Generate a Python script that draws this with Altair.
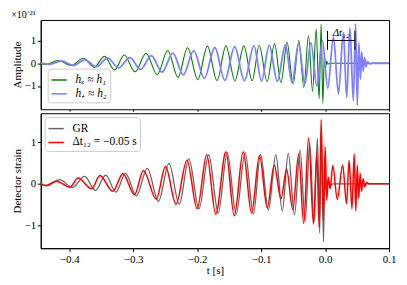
import altair as alt
import pandas as pd

# ---------------- data (extrema) ----------------
x_ticks = [-0.4, -0.3, -0.2, -0.1, 0.0, 0.1]
y_ticks = [-1, 0, 1]

# top panel: h_x ~ h1 (green)
green_t = [-0.4445, -0.437, -0.417, -0.397, -0.378, -0.361, -0.345, -0.329, -0.314, -0.297,
           -0.280, -0.2625, -0.246, -0.230, -0.215, -0.199, -0.184, -0.169, -0.155, -0.141,
           -0.127, -0.114, -0.103, -0.0906, -0.079, -0.069, -0.0595, -0.0499, -0.041, -0.0332,
           -0.026, -0.0196, -0.014, -0.0093, -0.0062, -0.0036, -0.0012, 0.0008, 0.0025, 0.0045,
           0.007, 0.1]
green_v = [0.0, -0.05, 0.12, -0.10, 0.22, -0.18, 0.30, -0.30, 0.36, -0.38,
           0.44, -0.50, 0.56, -0.62, 0.68, -0.72, 0.75, -0.76, 0.76, -0.77,
           0.76, -0.77, 0.78, -0.80, 0.85, -0.85, 0.92, -0.92, 1.00, -1.06,
           1.22, -1.24, 1.50, -1.56, 1.72, -1.76, 0.35, -0.2, 0.1, -0.04,
           0.0, 0.0]

# top panel: h_+ ~ h2 (blue)
blue_t = [-0.4445, -0.4306, -0.4121, -0.3938, -0.3756, -0.3576, -0.3399, -0.3227, -0.3053, -0.2885,
          -0.2717, -0.2548, -0.2380, -0.2217, -0.2054, -0.1888, -0.1724, -0.1568, -0.1413, -0.1262,
          -0.1112, -0.0994, -0.0874, -0.0747, -0.0621, -0.0517, -0.0416, -0.0315, -0.0222, -0.0129,
          -0.0043, 0.0042, 0.0130, 0.0208, 0.0286, 0.0337, 0.0388, 0.0441, 0.0477, 0.0503,
          0.0528, 0.0551, 0.0573, 0.0595, 0.0616, 0.0640, 0.0663, 0.0694, 0.0741, 0.1]
blue_v = [0.0, -0.05, 0.10, -0.10, 0.15, -0.15, 0.22, -0.20, 0.25, -0.27,
          0.33, -0.39, 0.44, -0.51, 0.55, -0.66, 0.69, -0.75, 0.73, -0.77,
          0.76, -0.78, 0.78, -0.80, 0.80, -0.85, 0.85, -0.90, 0.90, -1.0,
          1.0, -1.1, 1.16, -1.34, 1.35, -1.5, 1.55, -1.65, 1.73, -1.85,
          0.9, -0.7, 0.5, -0.35, 0.25, -0.15, 0.08, -0.03, 0.0, 0.0]

# bottom panel: GR (gray)
gr_t = [-0.4445, -0.435, -0.415, -0.395, -0.376, -0.359, -0.343, -0.327, -0.312, -0.295,
        -0.278, -0.2605, -0.244, -0.228, -0.213, -0.197, -0.182, -0.167, -0.153, -0.139,
        -0.125, -0.112, -0.101, -0.0886, -0.077, -0.067, -0.0575, -0.0479, -0.039, -0.0312,
        -0.024, -0.0176, -0.012, -0.0085, -0.0059, -0.0025, -0.0005, 0.0019, 0.0042, 0.0073,
        0.012, 0.1]
gr_v = [0.0, -0.05, 0.10, -0.09, 0.18, -0.16, 0.21, -0.20, 0.25, -0.29,
        0.37, -0.42, 0.49, -0.49, 0.60, -0.60, 0.70, -0.70, 0.75, -0.73,
        0.75, -0.73, 0.71, -0.63, 0.70, -0.65, 0.73, -0.75, 0.81, -0.91,
        0.98, -0.95, 1.10, -1.18, 1.20, -1.40, 0.30, -0.2, 0.1, -0.04,
        0.0, 0.0]

# bottom panel: dt12 = -0.05 s (red)
red_t = [-0.4445, -0.437, -0.420, -0.399, -0.386, -0.365, -0.352, -0.332, -0.316, -0.298,
         -0.284, -0.264, -0.2495, -0.233, -0.216, -0.200, -0.185, -0.171, -0.155, -0.142,
         -0.128, -0.115, -0.1025, -0.0905, -0.0795, -0.069, -0.0603, -0.0505, -0.0413, -0.0335,
         -0.0258, -0.0182, -0.0129, -0.0093, -0.0062, -0.0028, 0.0, 0.0025, 0.005, 0.0078,
         0.012, 0.019, 0.0275, 0.0335, 0.0375, 0.042, 0.0455, 0.048, 0.0503, 0.0525,
         0.0548, 0.057, 0.0595, 0.062, 0.065, 0.069, 0.1]
red_v = [0.0, -0.04, 0.064, -0.08, 0.14, -0.12, 0.20, -0.18, 0.24, -0.26,
         0.32, -0.37, 0.42, -0.49, 0.57, -0.60, 0.70, -0.73, 0.77, -0.77,
         0.77, -0.70, 0.68, -0.58, 0.45, -0.36, 0.35, -0.62, 0.72, -0.95,
         1.11, -0.97, 0.75, -1.05, 1.55, -0.88, 0.9, -0.4, 0.15, -0.12,
         0.44, -0.37, 0.45, -0.48, 0.56, -0.6, 0.72, -0.65, 0.45, -0.35,
         0.25, -0.18, 0.12, -0.07, 0.03, 0.0, 0.0]

top_labels = ["hₓ ≈ h₁", "h₊ ≈ h₂"]
top_colors = ["#008000", "#7f7fff"]
bot_labels = ["GR", "Δt₁₂ = −0.05 s"]
bot_colors = ["#666666", "#ff0000"]

dt_marks = [0.0037, 0.0466]
dt_bar_y = 1.0
dt_cap = [0.59, 1.42]
dt_label = "Δt₁₂"

FONT = "Liberation Serif"

df_green = pd.DataFrame({"t": green_t, "v": green_v, "s": top_labels[0]})
df_blue = pd.DataFrame({"t": blue_t, "v": blue_v, "s": top_labels[1]})
df_gr = pd.DataFrame({"t": gr_t, "v": gr_v, "s": bot_labels[0]})
df_red = pd.DataFrame({"t": red_t, "v": red_v, "s": bot_labels[1]})

xscale = alt.Scale(domain=[-0.4445, 0.1], nice=False, zero=False)


def leg(orient, offset, style="normal"):
    return alt.Legend(title=None, orient=orient, offset=offset, symbolType="stroke",
                      symbolSize=240, symbolStrokeWidth=1.5, labelFont=FONT, labelFontSize=11.5,
                      labelFontStyle=style,
                      fillColor="rgba(255,255,255,0.8)", strokeColor="#cccccc", padding=3,
                      cornerRadius=3, rowPadding=0, labelLimit=200, labelOffset=8)


def ax(**kw):
    base = dict(grid=False, labelFont=FONT, labelFontSize=11, titleFont=FONT, titleFontSize=11,
                titleFontWeight="normal", labelColor="black", titleColor="black",
                tickColor="black", domainColor="black", tickSize=3.5, labelPadding=1.5,
                titlePadding=2, labelFlush=False)
    base.update(kw)
    return alt.Axis(**base)


# ---------------- top panel ----------------
x_top = alt.X("t:Q", scale=xscale, axis=ax(values=x_ticks, labels=False, ticks=True, tickSize=2,
                                          domain=False, title=None, labelPadding=0))
y_top = alt.Y("v:Q", scale=alt.Scale(domain=[-2.02, 1.90], nice=False, zero=False),
              axis=ax(values=y_ticks, format="d", title="Amplitude"))
ctop = alt.Color("s:N", scale=alt.Scale(domain=top_labels, range=top_colors),
                 legend=leg("bottom-left", 7, "italic"))

g_line = alt.Chart(df_green).mark_line(strokeWidth=1.1, interpolate="monotone", clip=True).encode(
    x=x_top, y=y_top, color=ctop)
b_line = alt.Chart(df_blue).mark_line(strokeWidth=1.8, interpolate="monotone", clip=True).encode(
    x=x_top, y=y_top, color=ctop)

df_h = pd.DataFrame({"t": [dt_marks[0]], "t2": [dt_marks[1]], "v": [dt_bar_y]})
df_caps = pd.DataFrame({"t": dt_marks, "v": [dt_cap[0]] * 2, "v2": [dt_cap[1]] * 2})
df_lab = pd.DataFrame({"t": [(dt_marks[0] + dt_marks[1]) / 2], "v": [dt_bar_y + 0.1], "txt": [dt_label]})

h_rule = alt.Chart(df_h).mark_rule(color="black", strokeWidth=1).encode(x="t:Q", x2="t2:Q", y="v:Q")
caps = alt.Chart(df_caps).mark_rule(color="black", strokeWidth=1).encode(x="t:Q", y="v:Q", y2="v2:Q")
lab = alt.Chart(df_lab).mark_text(font=FONT, fontSize=11, fontStyle="italic", baseline="bottom",
                                  align="center").encode(x="t:Q", y="v:Q", text="txt:N")

top = alt.layer(g_line, b_line, h_rule, caps, lab).properties(
    width=351, height=90,
    title=alt.TitleParams("×10⁻²¹", anchor="start", fontSize=10, font=FONT, fontWeight="normal",
                          offset=0, dx=0))

# ---------------- bottom panel ----------------
x_bot = alt.X("t:Q", scale=xscale, axis=ax(values=x_ticks, format=".1f", title="t [s]",
                                          titlePadding=1))
y_bot = alt.Y("v:Q", scale=alt.Scale(domain=[-1.55, 1.70], nice=False, zero=False),
              axis=ax(values=y_ticks, format="d", title="Detector strain"))
cbot = alt.Color("s:N", scale=alt.Scale(domain=bot_labels, range=bot_colors),
                 legend=leg("top-left", 4))

gr_line = alt.Chart(df_gr).mark_line(strokeWidth=1.3, interpolate="monotone", clip=True).encode(
    x=x_bot, y=y_bot, color=cbot)
red_line = alt.Chart(df_red).mark_line(strokeWidth=1.5, interpolate="monotone", clip=True).encode(
    x=x_bot, y=y_bot, color=cbot)

bottom = alt.layer(gr_line, red_line).properties(width=351, height=136)

chart = alt.vconcat(top, bottom, spacing=0,
                    padding={"left": 2, "top": 0, "right": 2, "bottom": 0}).resolve_scale(
    color="independent").resolve_legend(color="independent").configure_view(
    stroke="black", strokeWidth=1).configure_axis(grid=False)

chart.save("out.html", embed_options={"renderer": "svg", "actions": False})
